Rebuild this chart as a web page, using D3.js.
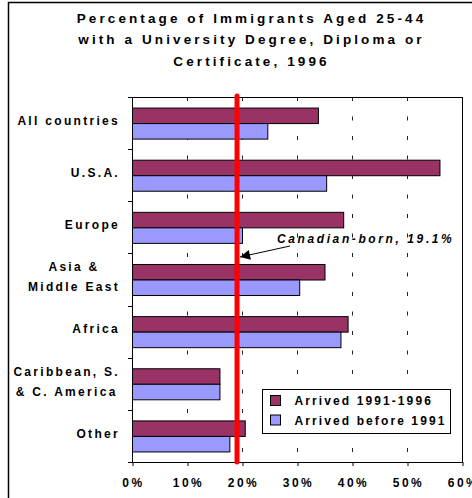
<!DOCTYPE html>
<html>
<head>
<meta charset="utf-8">
<script src="https://cdn.jsdelivr.net/npm/d3@7"></script>
<style>
  body { margin: 0; background: #fff; }
  text { font-family: Arial, "Liberation Sans", sans-serif; font-weight: bold; fill: #000; }
</style>
</head>
<body>
<div id="chart"></div>
<script>
// data
const categories = ["All countries", "U.S.A.", "Europe", "Asia &\nMiddle East", "Africa", "Caribbean, S.\n& C. America", "Other"];
const seriesNames = ["Arrived 1991-1996", "Arrived before 1991"];
const arrived9196 = [33.8, 55.9, 38.4, 35.0, 39.2, 15.9, 20.5];
const arrivedBefore91 = [24.6, 35.3, 20.0, 30.4, 37.9, 15.9, 17.7];
const canadianBorn = 19.1;
const xTicks = [0, 10, 20, 30, 40, 50, 60];
const titleLines = ["Percentage of Immigrants Aged 25-44", "with a University Degree, Diploma or", "Certificate, 1996"];

const colors = ["#993366", "#9999FF"];

const W = 472, H = 498;
const plot = {left: 132, right: 462, top: 97, bottom: 462};

const svg = d3.select("#chart").append("svg")
  .attr("width", W)
  .attr("height", H);

// outer chart frame (cropped on right / bottom)
svg.append("rect")
  .attr("x", 8.5).attr("y", 2.5)
  .attr("width", 600).attr("height", 600)
  .attr("fill", "#fff")
  .attr("stroke", "#000")
  .attr("stroke-width", 1.5);

// title
svg.append("g").selectAll("text")
  .data(titleLines)
  .enter().append("text")
  .attr("x", 251.5)
  .attr("y", (d, i) => 22.5 + i * 21.8)
  .attr("text-anchor", "middle")
  .style("font-size", "13.5px")
  .style("letter-spacing", "3.1px")
  .text(d => d);

const x = d3.scaleLinear()
  .domain([0, 60])
  .range([plot.left, plot.right]);

const y = d3.scaleBand()
  .domain(categories)
  .range([plot.top, plot.bottom]);

const y1 = d3.scaleBand()
  .domain(seriesNames)
  .range([0, y.bandwidth()])
  .paddingOuter(0.68);

// gridlines
svg.append("g").selectAll("line")
  .data(xTicks.slice(1, -1))
  .enter().append("line")
  .attr("x1", d => x(d) + 0.5).attr("x2", d => x(d) + 0.5)
  .attr("y1", plot.top).attr("y2", plot.bottom)
  .attr("stroke", "#222")
  .attr("stroke-width", 1)
  .attr("stroke-dasharray", "4,15.5");

// bars
const rows = categories.map((c, i) => ({c, vals: [arrived9196[i], arrivedBefore91[i]]}));
const grp = svg.append("g").selectAll("g")
  .data(rows)
  .enter().append("g")
  .attr("transform", d => `translate(0,${y(d.c)})`);

grp.selectAll("rect")
  .data(d => d.vals.map((v, j) => ({v, s: seriesNames[j], j})))
  .enter().append("rect")
  .attr("x", x(0) + 0.5)
  .attr("y", d => y1(d.s) + 0.5)
  .attr("width", d => x(d.v) - x(0))
  .attr("height", y1.bandwidth())
  .attr("fill", d => colors[d.j])
  .attr("stroke", "#000")
  .attr("stroke-width", 1);

// plot frame
svg.append("rect")
  .attr("x", plot.left + 0.5).attr("y", plot.top + 0.5)
  .attr("width", plot.right - plot.left).attr("height", plot.bottom - plot.top)
  .attr("fill", "none")
  .attr("stroke", "#000");

// category tick marks on the left
const bounds = categories.map(c => y(c)).concat([plot.bottom]);
svg.append("g").selectAll("line")
  .data(bounds)
  .enter().append("line")
  .attr("x1", plot.left - 4).attr("x2", plot.left)
  .attr("y1", d => Math.round(d) + 0.5).attr("y2", d => Math.round(d) + 0.5)
  .attr("stroke", "#000");

// category labels
const labels = svg.append("g");
categories.forEach(c => {
  const lines = c.split("\n");
  const cy = y(c) + y.bandwidth() / 2 - 2.5;
  const t = labels.append("text")
    .attr("text-anchor", "end")
    .style("font-size", "12px")
    .style("letter-spacing", "2.3px");
  const lh = 20;
  lines.forEach((l, i) => {
    t.append("tspan")
      .attr("x", 120)
      .attr("y", cy + 4.3 + (i - (lines.length - 1) / 2) * lh)
      .text(l);
  });
  if (lines.length > 1) {
    // centre the shorter lines under the widest one
    const spans = t.selectAll("tspan").nodes();
    const widths = spans.map(s => s.getComputedTextLength());
    const maxW = d3.max(widths);
    spans.forEach((s, i) => d3.select(s).attr("x", 120 - (maxW - widths[i]) / 2));
  }
});

// x axis
const xAxis = svg.append("g")
  .attr("transform", `translate(0,${plot.bottom})`)
  .call(d3.axisBottom(x).tickValues(xTicks).tickSize(4).tickFormat(d => d + "%"));
xAxis.select(".domain").remove();
xAxis.selectAll(".tick line").attr("stroke", "#000").attr("transform", "translate(0.5,0)");
xAxis.selectAll(".tick text")
  .attr("y", 24.5)
  .attr("dy", 0)
  .attr("dx", "1px")
  .style("font-family", "Arial, 'Liberation Sans', sans-serif")
  .style("font-weight", "bold")
  .style("font-size", "12px")
  .style("letter-spacing", "2.5px");

// Canadian-born reference line
svg.append("line")
  .attr("x1", x(canadianBorn)).attr("x2", x(canadianBorn))
  .attr("y1", plot.top - 1).attr("y2", plot.bottom)
  .attr("stroke", "#FF0000")
  .attr("stroke-width", 5)
  .attr("stroke-linecap", "round");

// annotation
svg.append("defs").append("marker")
  .attr("id", "arrow")
  .attr("viewBox", "0 0 10 10")
  .attr("refX", 10).attr("refY", 5)
  .attr("markerWidth", 14).attr("markerHeight", 10)
  .attr("markerUnits", "userSpaceOnUse")
  .attr("orient", "auto")
  .append("path")
  .attr("d", "M0,0L10,5L0,10Z")
  .attr("fill", "#000");

svg.append("line")
  .attr("x1", 290).attr("y1", 246)
  .attr("x2", x(canadianBorn) + 3).attr("y2", 257)
  .attr("stroke", "#000")
  .attr("stroke-width", 1)
  .attr("marker-end", "url(#arrow)");

svg.append("text")
  .attr("x", 277)
  .attr("y", 243)
  .style("font-size", "12px")
  .style("font-style", "italic")
  .style("letter-spacing", "2.6px")
  .text(`Canadian-born, ${canadianBorn}%`);

// legend
const legend = svg.append("g").attr("transform", "translate(262.5,389.5)");
legend.append("rect")
  .attr("width", 188).attr("height", 44)
  .attr("fill", "#fff")
  .attr("stroke", "#000");
const li = legend.selectAll("g")
  .data(seriesNames)
  .enter().append("g")
  .attr("transform", (d, i) => `translate(8,${6 + i * 19.5})`);
li.append("rect")
  .attr("width", 10).attr("height", 10)
  .attr("fill", (d, i) => colors[i])
  .attr("stroke", "#000");
li.append("text")
  .attr("x", 24)
  .attr("y", 9.5)
  .style("font-size", "12px")
  .style("letter-spacing", "2.1px")
  .text(d => d);
</script>
</body>
</html>
